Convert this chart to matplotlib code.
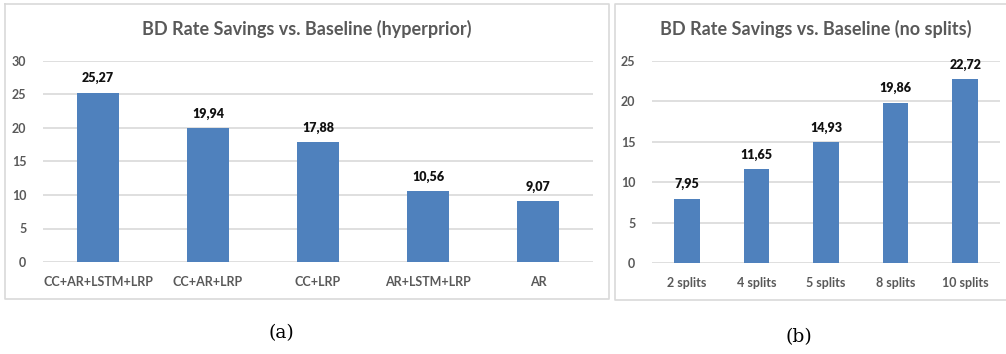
import matplotlib.pyplot as plt
from matplotlib.lines import Line2D

# data
cats_a = ["CC+AR+LSTM+LRP", "CC+AR+LRP", "CC+LRP", "AR+LSTM+LRP", "AR"]
vals_a = [25.27, 19.94, 17.88, 10.56, 9.07]
cats_b = ["2 splits", "4 splits", "5 splits", "8 splits", "10 splits"]
vals_b = [7.95, 11.65, 14.93, 19.86, 22.72]

W, H = 1006, 354
BLUE = "#4F81BD"
GRAY = "#595959"
GRID = "#D9D9D9"
FONT = ["Lato", "DejaVu Sans"]

fig = plt.figure(figsize=(W / 100, H / 100), dpi=100)
fig.patch.set_facecolor("white")


def px_axes(x0, y0, x1, y1):
    # pixel box (top-left origin) -> figure axes
    return fig.add_axes([x0 / W, 1 - y1 / H, (x1 - x0) / W, (y1 - y0) / H])


def frame(pts):
    xs = [p[0] / W for p in pts]
    ys = [1 - p[1] / H for p in pts]
    fig.lines.append(Line2D(xs, ys, transform=fig.transFigure,
                            color=GRID, linewidth=1.2, zorder=0))


def bar_panel(ax, cats, vals, ymax, step, width, title, tx):
    x = range(len(cats))
    ax.bar(x, vals, width=width, color=BLUE, zorder=3)
    for i, v in zip(x, vals):
        ax.annotate(f"{v:.2f}".replace(".", ","), (i, v), xytext=(0, 6),
                    textcoords="offset points", ha="center", va="bottom",
                    fontsize=9, fontweight="heavy", family=FONT, color="#111111")
    ax.set_xlim(-0.5, len(cats) - 0.5)
    ax.set_ylim(0, ymax)
    ax.set_yticks(range(0, ymax + 1, step))
    ax.set_xticks(list(x))
    ax.set_xticklabels(cats)
    ax.yaxis.grid(True, color=GRID, linewidth=1.2, zorder=0)
    ax.set_axisbelow(True)
    for s in ax.spines.values():
        s.set_visible(False)
    ax.tick_params(length=0, labelcolor=GRAY, labelsize=9)
    ax.tick_params(axis="y", pad=12)
    ax.tick_params(axis="x", pad=10)
    for lab in ax.get_xticklabels() + ax.get_yticklabels():
        lab.set_fontweight("bold")
        lab.set_family(FONT)
    fig.text(tx / W, 1 - 29 / H, title, ha="center", va="center",
             fontsize=13, fontweight="bold", color=GRAY, family=FONT)


frame([(5, 4), (609, 4), (609, 299), (5, 299), (5, 4)])
# right panel frame runs off the image on the right
frame([(1006, 4), (615, 4), (615, 300), (1006, 300)])

ax1 = px_axes(43, 61, 593, 262)
bar_panel(ax1, cats_a, vals_a, 30, 5, 0.39,
          "BD Rate Savings vs. Baseline (hyperprior)", 307)

ax2 = px_axes(652, 61, 1000, 263)
bar_panel(ax2, cats_b, vals_b, 25, 5, 0.37,
          "BD Rate Savings vs. Baseline (no splits)", 816)

fig.text(281 / W, 1 - 333 / H, "(a)", ha="center", va="center",
         fontsize=13.5, family="DejaVu Serif", color="black")
fig.text(799 / W, 1 - 337 / H, "(b)", ha="center", va="center",
         fontsize=13.5, family="DejaVu Serif", color="black")

fig.savefig("out.png", dpi=100)
